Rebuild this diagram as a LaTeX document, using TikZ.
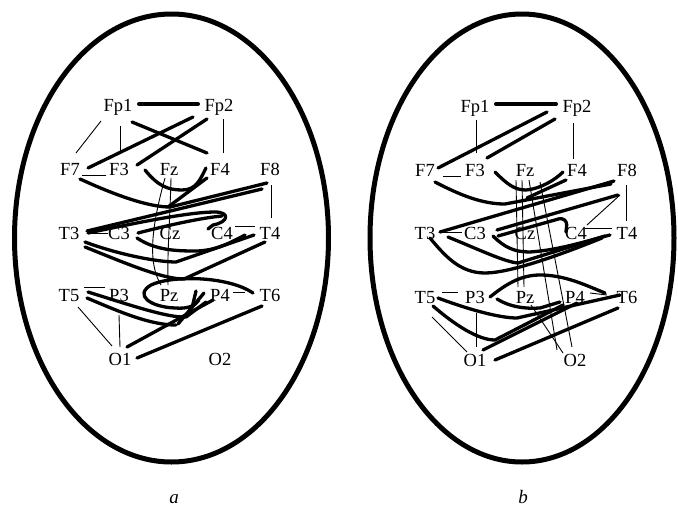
\documentclass[tikz,border=0pt]{standalone}
\usepackage{fontspec}
\setmainfont{Liberation Serif}
\begin{document}
\begin{tikzpicture}[x=1pt,y=-1pt,
  lab/.style={font=\fontsize{18.5}{21}\selectfont, inner sep=0pt, anchor=base},
  captxt/.style={font=\fontsize{19}{22}\selectfont\itshape, inner sep=0pt, anchor=base},
  thk/.style={line width=3.3pt, line cap=round, line join=round},
  thn/.style={line width=0.9pt},
  head/.style={line width=5pt}]
\useasboundingbox (0,0) rectangle (678,507);
\fill[white] (0,0) rectangle (678,507);

% ---------- heads ----------
\draw[head] (171.5,238) ellipse [x radius=157, y radius=224];
\draw[head] (522,238) ellipse [x radius=152, y radius=224];

% ---------- panel a labels ----------
\foreach \n/\t/\x/\y in {Fp1/Fp1/118/105, Fp2/Fp2/219/105,
  F7/F7/70/169, F3/F3/119/169, Fz/Fz/169/169, F4/F4/220/169, F8/F8/270/169,
  T3/T3/69/233, C3/C3/119/233, Cz/Cz/170/233, C4/C4/222/233, T4/T4/270/233,
  T5/T5/69/295, P3/P3/119/295, Pz/Pz/169/295, P4/P4/220/295, T6/T6/270/295,
  O1/O1/120/359, O2/O2/220/359}
  \node[lab] (a\n) at (\x,\y+6) {\t};
% ---------- panel b labels ----------
\foreach \n/\t/\x/\y in {Fp1/Fp1/475/106, Fp2/Fp2/577/106,
  F7/F7/425/170, F3/F3/475/170, Fz/Fz/525/170, F4/F4/577/170, F8/F8/627/170,
  T3/T3/425/233, C3/C3/475/233, Cz/Cz/525/233, C4/C4/576/233, T4/T4/627/233,
  T5/T5/425/297, P3/P3/475/297, Pz/Pz/525/297, P4/P4/575/297, T6/T6/627/297,
  O1/O1/475/360, O2/O2/575/360}
  \node[lab] (b\n) at (\x,\y+6) {\t};

\node[captxt] (capa) at (174,503) {a};
\node[captxt] (capb) at (523,503) {b};

% ================= panel a =================
% thin
\draw[thn] (101,121) -- (76,153);
\draw[thn] (120,126) -- (120,152);
\draw[thn] (223,119) -- (223,153);
\draw[thn] (82,175) -- (106,175);
\draw[thn] (271,185) -- (271,218);
\draw[thn] (87,233) -- (108,233);
\draw[thn] (235,226) -- (255,226);
\draw[thn] (165,178) .. controls (152,225) and (147,262) .. (161,285);
\draw[thn] (171,178) .. controls (170,220) and (167,255) .. (168,285);
\draw[thn] (84,287) -- (105,287);
\draw[thn] (78,307) -- (112,346);
\draw[thn] (119,315) -- (120,347);
\draw[thn] (233,292) -- (245,292);
% thick
\draw[thk, line width=4pt] (139,104) -- (198,104);
\draw[thk] (132,122) -- (207,153);
\draw[thk] (193,117) -- (88,168);
\draw[thk] (207,119) -- (137,165);
\draw[thk] (80,179) .. controls (115,195) and (148,207) .. (170,207) -- (267,183);
\draw[thk] (87,231) -- (262,189);
\draw[thk] (145,170) .. controls (158,186) and (168,190) .. (182,190)
                     .. controls (196,190) and (200,180) .. (206,168);
\draw[thk] (207,178) -- (168,207);
\draw[thk] (88,233) .. controls (140,222) and (190,212) .. (215,212)
                    .. controls (230,212) and (229,222) .. (213,225) -- (208,229);
\draw[thk] (138,233) .. controls (165,226) and (200,218) .. (222,216);
\draw[thk] (137,238) .. controls (155,250) and (175,251) .. (195,251)
                     .. controls (215,251) and (230,243) .. (245,235);
\draw[thk] (85,242) .. controls (120,255) and (158,262) .. (176,262) -- (254,235);
\draw[thk] (85,247) .. controls (125,263) and (162,279) .. (184,279) -- (265,242);
\draw[thk] (253,293) .. controls (228,276) and (172,275) .. (151,285)
                     .. controls (134,295) and (150,307) .. (175,308)
                     .. controls (188,309) and (195,306) .. (199,300);
\draw[thk] (196,291) -- (192,308);
\draw[thk] (204,293) -- (178,324);
\draw[thk] (88,292) .. controls (130,305) and (168,318) .. (186,317) -- (206,302);
\draw[thk] (87,298) .. controls (120,312) and (150,325) .. (176,325);
\draw[thk] (127,347) -- (213,300);
\draw[thk] (137,358) -- (262,306);

% ================= panel b =================
% thin
\draw[thn] (476,120) -- (476,153);
\draw[thn] (573,123) -- (573,159);
\draw[thn] (443,176) -- (461,176);
\draw[thn] (626,185) -- (626,221);
\draw[thn] (620,195) -- (587,225);
\draw[thn] (440,232) -- (462,232);
\draw[thn] (585,228) -- (612,228);
\draw[thn] (516,180) -- (518,287);
\draw[thn] (522,180) -- (524,287);
\draw[thn] (529,180) -- (557,350);
\draw[thn] (540,182) -- (572,347);
\draw[thn] (531,305) -- (563,353);
\draw[thn] (442,292) -- (458,292);
\draw[thn] (432,317) -- (467,352);
\draw[thn] (476,313) -- (476,347);
\draw[thn] (590,293) -- (607,295);
% thick
\draw[thk, line width=4pt] (496,104) -- (556,104);
\draw[thk] (547,112) -- (438,168);
\draw[thk] (555,119) -- (487,158);
\draw[thk] (435,182) .. controls (460,195) and (482,204) .. (505,204) -- (611,184);
\draw[thk] (495,172) .. controls (508,185) and (515,190) .. (526,190)
                     .. controls (540,189) and (555,180) .. (563,172);
\draw[thk] (566,180) -- (527,198);
\draw[thk] (440,232) -- (614,181);
\draw[thk] (497,230) -- (618,195);
\draw[thk, rounded corners=3pt] (498,236) -- (562,218) -- (567,222) -- (566,232);
\draw[thk] (430,238) .. controls (445,256) and (460,273) .. (485,273)
                     .. controls (510,273) and (560,255) .. (602,238);
\draw[thk] (448,237) .. controls (480,250) and (505,262) .. (518,263) -- (605,236);
\draw[thk] (493,236) .. controls (505,248) and (515,252) .. (530,252)
                     .. controls (560,250) and (590,240) .. (610,235);
\draw[thk] (490,297) .. controls (505,285) and (520,275) .. (540,275)
                     .. controls (565,275) and (585,285) .. (605,293);
\draw[thk] (497,299) .. controls (510,307) and (525,309) .. (540,308) -- (560,302);
\draw[thk] (438,298) .. controls (470,310) and (500,318) .. (517,318) -- (620,295);
\draw[thk] (433,306) .. controls (455,325) and (478,340) .. (495,340) -- (563,305);
\draw[thk] (483,350) -- (577,303);
\draw[thk] (495,360) -- (618,308);
\end{tikzpicture}
\end{document}
